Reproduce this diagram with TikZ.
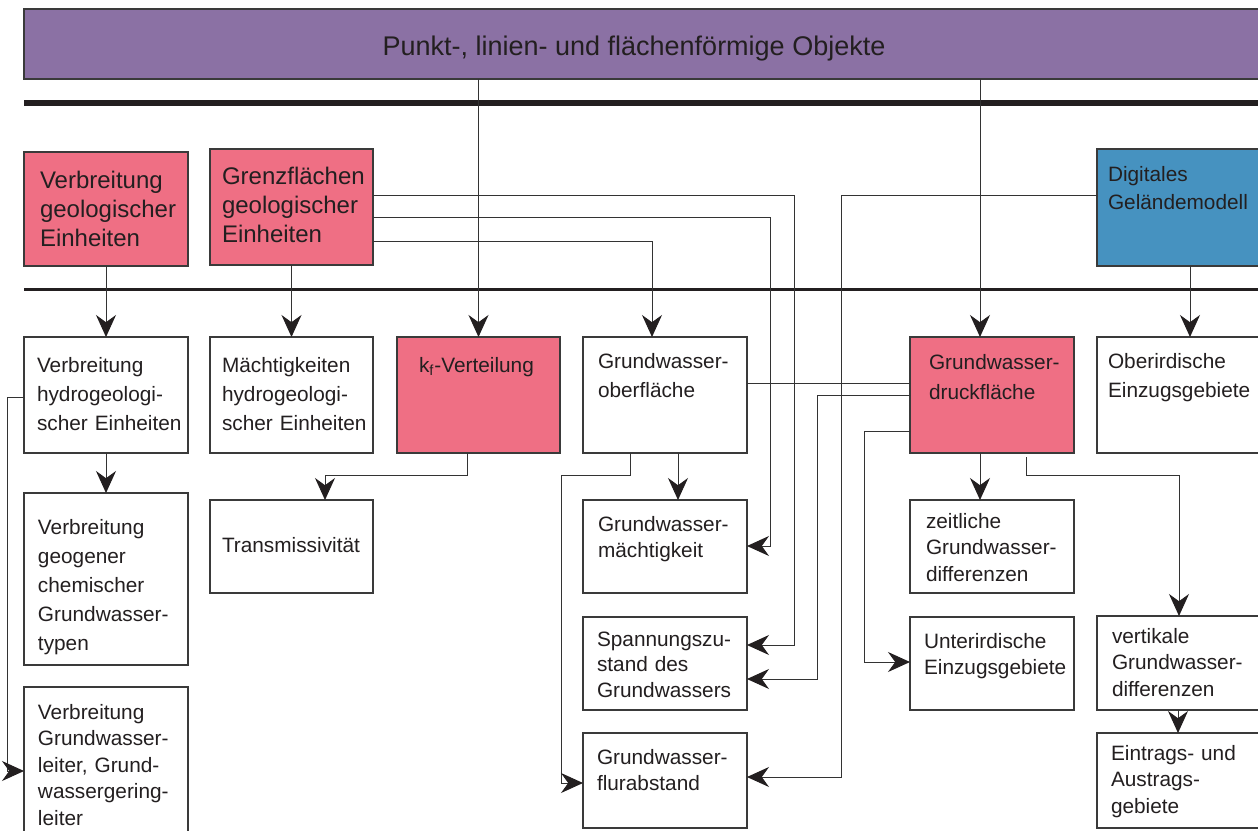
\documentclass[tikz,border=0pt]{standalone}
\usepackage{fontspec}
\setmainfont{Liberation Sans}
\usetikzlibrary{arrows.meta,fit,calc}
\definecolor{barpurple}{HTML}{8B71A4}
\definecolor{pinkbox}{HTML}{EF6F84}
\definecolor{bluebox}{HTML}{4692C0}
\definecolor{edgecol}{HTML}{3A3A3A}
\definecolor{wirecol}{HTML}{333333}
\definecolor{txtcol}{HTML}{231F20}
\begin{document}
\begin{tikzpicture}[x=0.5pt,y=-0.5pt,
  box/.style={draw=edgecol, line width=0.65pt, inner sep=0pt, outer sep=0pt, fill=white},
  pbox/.style={box, fill=pinkbox},
  bbox/.style={box, fill=bluebox},
  vbox/.style={box, fill=barpurple},
  wire/.style={draw=wirecol, line width=0.5pt},
  arr/.style={wire, -{Stealth[length=11pt,width=10pt,inset=3.6pt,color=txtcol]}},
  thick1/.style={draw=txtcol, line width=3pt},
  thick2/.style={draw=txtcol, line width=1.5pt},
  t/.style={anchor=base west, inner sep=0pt, outer sep=0pt, align=left, text width=82pt, text=txtcol, font=\fontsize{10.4pt}{14.5pt}\selectfont},
  tt/.style={t, font=\fontsize{10.4pt}{13.25pt}\selectfont},
  tbig/.style={t, font=\fontsize{12pt}{14.6pt}\selectfont},
]
\useasboundingbox (0,0) rectangle (1258,830);
\fill[white] (0,0) rectangle (1258,830);

% top bar and rules
\node[vbox, fit={(24,9) (1280,79)}] (bar) {};
\node[anchor=base, inner sep=0pt, text=txtcol, font=\fontsize{13.5pt}{16pt}\selectfont] (bart) at (634,55) {Punkt-, linien- und flächenförmige Objekte};
\draw[thick1] (24,103) -- (1262,103);
\draw[thick2] (24,289.5) -- (1262,289.5);

% level 1
\node[pbox, fit={(24,152) (188,266)}] (P1) {};
\node[tbig] (P1t) at (40,188) {Verbreitung\\geologischer\\Einheiten};
\node[pbox, fit={(210,149) (373,265)}] (P2) {};
\node[tbig] (P2t) at (222,184) {Grenzflächen\\geologischer\\Einheiten};
\node[bbox, fit={(1097,149) (1270,266)}] (DGM) {};
\node[t, font=\fontsize{10.4pt}{14pt}\selectfont] (DGMt) at (1108,181) {Digitales\\Geländemodell};

% level 2
\node[box, fit={(24,337) (188,453)}] (hydro) {};
\node[t] (hydrot) at (37,372) {Verbreitung\\hydrogeologi-\\scher Einheiten};
\node[box, fit={(210,337) (373,453)}] (macht) {};
\node[t] (machtt) at (222,372) {Mächtigkeiten\\hydrogeologi-\\scher Einheiten};
\node[pbox, fit={(397,337) (560,453)}] (kf) {};
\node[t] (kft) at (419,372) {k\textsubscript{f}-Verteilung};
\node[box, fit={(583,337) (747,453)}] (ober) {};
\node[t] (obert) at (598,368) {Grundwasser-\\oberfläche};
\node[pbox, fit={(910,337) (1074,453)}] (druck) {};
\node[t, font=\fontsize{10.4pt}{15.3pt}\selectfont] (druckt) at (929,369) {Grundwasser-\\druckfläche};
\node[box, fit={(1097,337) (1270,453)}] (oberird) {};
\node[t] (oberirdt) at (1108,368) {Oberirdische\\Einzugsgebiete};

% level 3
\node[box, fit={(24,493) (188,665)}] (geogen) {};
\node[t] (geogent) at (38,534) {Verbreitung\\geogener\\chemischer\\Grundwasser-\\typen};
\node[box, fit={(210,500) (373,593)}] (transm) {};
\node[t] (transmt) at (222,552) {Transmissivität};
\node[box, fit={(583,500) (747,593)}] (gwm) {};
\node[tt] (gwmt) at (598,531) {Grundwasser-\\mächtigkeit};
\node[box, fit={(910,500) (1074,593)}] (zeit) {};
\node[tt] (zeitt) at (926,528) {zeitliche\\Grundwasser-\\differenzen};

% level 4
\node[box, fit={(583,617) (747,710)}] (spann) {};
\node[tt, font=\fontsize{10.4pt}{12.9pt}\selectfont] (spannt) at (597,646) {Spannungszu-\\stand des\\Grundwassers};
\node[box, fit={(910,617) (1074,710)}] (unter) {};
\node[tt] (untert) at (924,648) {Unterirdische\\Einzugsgebiete};
\node[box, fit={(1097,616) (1270,710)}] (vert) {};
\node[tt] (vertt) at (1112,643) {vertikale\\Grundwasser-\\differenzen};

% level 5
\node[box, fit={(583,733) (747,828)}] (flur) {};
\node[tt] (flurt) at (597,764) {Grundwasser-\\flurabstand};
\node[box, fit={(1097,733) (1270,828)}] (eintr) {};
\node[tt] (eintrt) at (1111,760) {Eintrags- und\\Austrags-\\gebiete};
\node[box, fit={(24,687) (188,845)}] (gwl) {};
\node[tt] (gwlt) at (38,719) {Verbreitung\\Grundwasser-\\leiter, Grund-\\wassergering-\\leiter};

% helper coordinates
\coordinate (druckin) at ($(druck.north west)+(70,0)$);
\coordinate (oberin) at ($(oberird.north west)+(93,0)$);

% connectors
\draw[arr] (P1.south) -- (hydro.north);
\draw[arr] (P2.south) -- (macht.north);
\draw[arr] (bar.south -| kf.north) -- (kf.north);
\draw[arr] (bar.south -| druckin) -- (druckin);
\draw[arr] (DGM.south -| oberin) -- (oberin);

\draw[arr] ($(P2.north east)+(0,92)$) -| ($(ober.north west)+(69,0)$);
\draw[arr] ($(P2.north east)+(0,68)$) -| ($(gwm.east)+(23,-0.5)$) -- ($(gwm.east)+(0,-0.5)$);
\draw[arr] ($(P2.north east)+(0,46)$) -| ($(spann.east)+(47,-18.5)$) -- ($(spann.east)+(0,-18.5)$);
\draw[arr] ($(DGM.north west)+(0,46)$) -| ($(flur.east)+(94,-3.5)$) -- ($(flur.east)+(0,-3.5)$);

\draw[arr] (hydro.south) -- (geogen.north);
\draw[arr] ($(hydro.north west)+(0,60)$) -| ($(gwl.north west)+(-17,84)$) -- ($(gwl.north west)+(0,84)$);
\draw[arr] ($(kf.south west)+(70,0)$) |- ($(transm.north west)+(115,-25)$) -- ($(transm.north west)+(115,0)$);
\draw[arr] ($(ober.south west)+(47,0)$) |- ($(ober.south west)+(-22,22)$) |- ($(flur.west)+(0,2.5)$);
\draw[arr] ($(ober.south west)+(95,0)$) -- ($(gwm.north west)+(95,0)$);

\draw[wire] ($(druck.north west)+(0,46)$) -- ($(ober.north east)+(0,46)$);
\draw[arr] ($(druck.north west)+(0,58)$) -| ($(spann.east)+(70,15.5)$) -- ($(spann.east)+(0,15.5)$);
\draw[arr] ($(druck.north west)+(0,94)$) -| ($(unter.west)+(-46,-1.5)$) -- ($(unter.west)+(0,-1.5)$);
\draw[arr] ($(druck.south west)+(70,0)$) -- ($(zeit.north west)+(70,0)$);
\draw[arr] ($(druck.south west)+(116,4)$) |- ($(vert.north west)+(82,-141)$) -- ($(vert.north west)+(82,0)$);
\draw[arr] ($(vert.south west)+(81,0)$) -- ($(eintr.north west)+(81,0)$);
\end{tikzpicture}
\end{document}
